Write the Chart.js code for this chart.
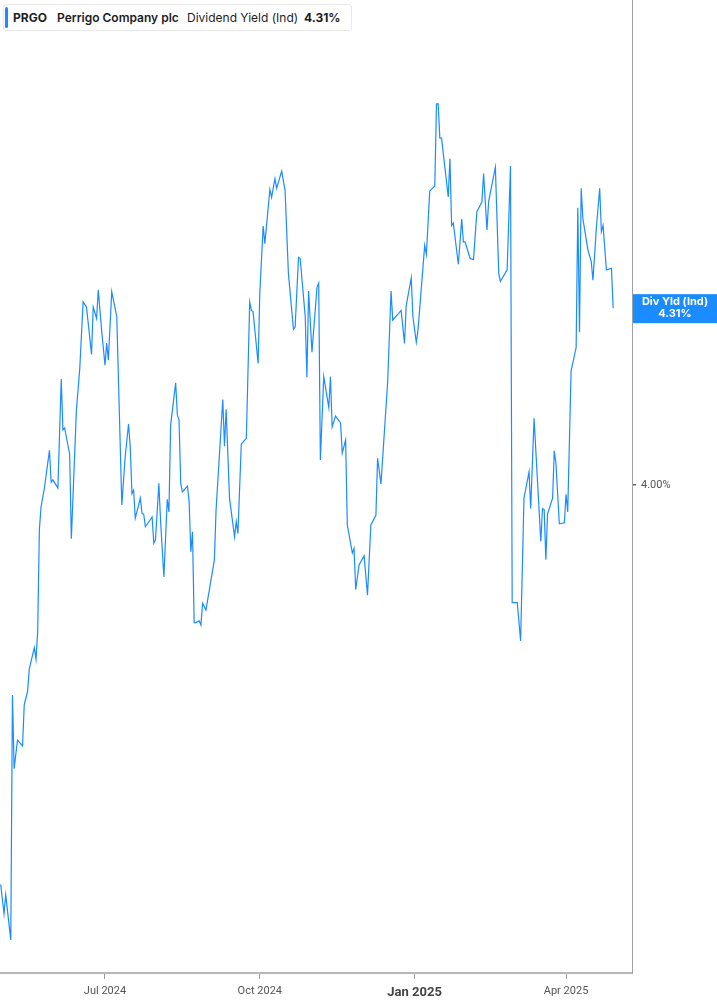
<!DOCTYPE html>
<html>
<head>
<meta charset="utf-8">
<script src="https://cdn.jsdelivr.net/npm/chart.js@4.4.1/dist/chart.umd.min.js"></script>
<style>
  html, body { margin: 0; padding: 0; background: #fff; }
  #wrap { position: relative; width: 717px; height: 1005px; }
  #c { position: absolute; left: 0; top: 0; }
  #hdr { position: absolute; left: 3px; top: 4px; width: 349px; height: 27px; background: #fff;
         border: 1px solid #e8e8e8; border-radius: 3px; box-sizing: border-box;
         font-family: Inter, "Noto Sans", sans-serif; font-size: 12px; color: #1d1d1f; }
  #hdr .bar { position: absolute; left: 1px; top: 2px; width: 3px; height: 21px; background: #1a8cff; border-radius: 2px; }
  #hdr span { position: absolute; top: 5px; white-space: nowrap; line-height: 16px; }
</style>
</head>
<body>
<div id="wrap">
  <canvas id="c" width="717" height="1005"></canvas>
  <div id="hdr">
    <div class="bar"></div>
    <span style="left:9px;font-weight:700">PRGO</span>
    <span style="left:53px;font-weight:600">Perrigo Company plc</span>
    <span style="left:183px;font-weight:400">Dividend Yield (Ind)</span>
    <span style="left:300px;font-weight:700">4.31%</span>
  </div>
</div>
<script>
const dates = [
"2024-04-30","2024-05-02","2024-05-03","2024-05-06","2024-05-07","2024-05-08","2024-05-10","2024-05-13","2024-05-14","2024-05-16",
"2024-05-17","2024-05-20","2024-05-21","2024-05-22","2024-05-23","2024-05-24","2024-05-26","2024-05-29","2024-05-30","2024-05-31",
"2024-06-03","2024-06-05","2024-06-06","2024-06-07","2024-06-10","2024-06-11","2024-06-14","2024-06-16","2024-06-18","2024-06-20",
"2024-06-23","2024-06-24","2024-06-26","2024-06-27","2024-06-29","2024-07-01","2024-07-02","2024-07-03","2024-07-05","2024-07-08",
"2024-07-11","2024-07-13","2024-07-15","2024-07-16","2024-07-17","2024-07-18","2024-07-19","2024-07-22","2024-07-23","2024-07-24",
"2024-07-25","2024-07-29","2024-07-30","2024-07-31","2024-08-02","2024-08-03","2024-08-05","2024-08-07","2024-08-08","2024-08-09",
"2024-08-12","2024-08-13","2024-08-14","2024-08-15","2024-08-16","2024-08-19","2024-08-20","2024-08-21","2024-08-22","2024-08-23",
"2024-08-24","2024-08-26","2024-08-27","2024-08-28","2024-08-30","2024-09-02","2024-09-04","2024-09-05","2024-09-09","2024-09-10",
"2024-09-11","2024-09-13","2024-09-16","2024-09-17","2024-09-18","2024-09-20","2024-09-23","2024-09-25","2024-09-26","2024-09-27",
"2024-09-30","2024-10-01","2024-10-03","2024-10-04","2024-10-07","2024-10-08","2024-10-10","2024-10-11","2024-10-14","2024-10-16",
"2024-10-18","2024-10-21","2024-10-22","2024-10-24","2024-10-25","2024-10-28","2024-10-29","2024-10-30","2024-11-01","2024-11-04",
"2024-11-05","2024-11-06","2024-11-08","2024-11-11","2024-11-12","2024-11-13","2024-11-15","2024-11-18","2024-11-19","2024-11-21",
"2024-11-22","2024-11-25","2024-11-26","2024-11-27","2024-11-29","2024-12-02","2024-12-04","2024-12-06","2024-12-09","2024-12-10",
"2024-12-12","2024-12-16","2024-12-18","2024-12-19","2024-12-24","2024-12-26","2024-12-27","2024-12-30","2024-12-31","2025-01-02",
"2025-01-03","2025-01-07","2025-01-08","2025-01-10","2025-01-13","2025-01-14","2025-01-15","2025-01-16","2025-01-17","2025-01-21",
"2025-01-22","2025-01-23","2025-01-24","2025-01-27","2025-01-29","2025-01-30","2025-01-31","2025-02-03","2025-02-05","2025-02-07",
"2025-02-10","2025-02-11","2025-02-13","2025-02-14","2025-02-18","2025-02-20","2025-02-21","2025-02-25","2025-02-27","2025-02-28",
"2025-03-03","2025-03-04","2025-03-05","2025-03-07","2025-03-10","2025-03-11","2025-03-13","2025-03-15","2025-03-17","2025-03-18",
"2025-03-19","2025-03-20","2025-03-21","2025-03-24","2025-03-25","2025-03-26","2025-03-28","2025-03-31","2025-04-01","2025-04-02",
"2025-04-04","2025-04-07","2025-04-08","2025-04-09","2025-04-10","2025-04-11","2025-04-14","2025-04-16","2025-04-17","2025-04-19",
"2025-04-21","2025-04-22","2025-04-23","2025-04-25","2025-04-28","2025-04-29"
];
const divYield = [
3.300,3.249,3.282,3.203,3.632,3.503,3.553,3.543,3.615,3.639,
3.678,3.715,3.695,3.744,3.922,3.962,3.995,4.061,4.005,4.009,
3.995,4.186,4.097,4.100,4.054,3.906,4.131,4.204,4.321,4.312,
4.229,4.312,4.292,4.342,4.271,4.210,4.249,4.219,4.339,4.295,
3.965,4.050,4.107,4.067,3.985,3.991,3.942,3.977,3.950,3.949,
3.927,3.944,3.898,3.904,4.003,3.939,3.839,3.975,3.953,4.105,
4.179,4.123,4.114,4.003,3.988,3.998,3.971,3.883,3.918,3.759,
3.759,3.762,3.755,3.793,3.781,3.834,3.869,3.956,4.150,4.068,
4.133,3.977,3.909,3.936,3.915,4.072,4.082,4.321,4.306,4.304,
4.213,4.336,4.454,4.423,4.518,4.504,4.537,4.520,4.550,4.517,
4.371,4.273,4.277,4.399,4.397,4.295,4.189,4.340,4.233,4.347,
4.354,4.044,4.190,4.136,4.190,4.102,4.121,4.109,4.056,4.079,
3.930,3.881,3.889,3.817,3.860,3.876,3.807,3.930,3.947,4.047,
4.002,4.181,4.340,4.289,4.306,4.248,4.314,4.363,4.295,4.250,
4.271,4.420,4.404,4.515,4.524,4.668,4.668,4.608,4.608,4.505,
4.572,4.455,4.459,4.387,4.466,4.426,4.426,4.397,4.395,4.479,
4.496,4.546,4.447,4.497,4.557,4.371,4.357,4.377,4.559,3.794,
3.794,3.761,3.727,3.977,4.023,3.959,4.117,4.009,3.901,3.959,
3.957,3.869,3.949,3.977,4.060,4.038,3.932,3.934,3.984,3.953,
4.200,4.241,4.486,4.268,4.520,4.467,4.412,4.391,4.359,4.450,
4.520,4.444,4.455,4.377,4.380,4.310
];
const xTickDates = ["2024-07-01","2024-10-01","2025-01-01","2025-04-01"];
const xTickLabels = ["Jul 2024","Oct 2024","Jan 2025","Apr 2025"];
const yTickValues = [4.00];
const lastLabel = "Div Yld (Ind)";

const LINE = '#1a8cff';
function dayNum(s){ const p = s.split('-').map(Number); return Date.UTC(p[0], p[1]-1, p[2]) / 86400000; }
const pts = dates.map((d, i) => ({ x: dayNum(d), y: divYield[i] }));
const xTicks = xTickDates.map(dayNum);
const boldTick = dayNum("2025-01-01");

const lastBox = {
  id: 'lastBox',
  afterDraw(chart) {
    const ctx = chart.ctx, ys = chart.scales.y, area = chart.chartArea;
    const v = divYield[divYield.length - 1];
    const yp = ys.getPixelForValue(v);
    const x0 = area.right + 1, w = chart.width - x0, h = 29;
    ctx.save();
    ctx.fillStyle = LINE;
    ctx.fillRect(x0, yp - 14, w, h);
    ctx.fillStyle = '#fff';
    ctx.textAlign = 'center';
    ctx.textBaseline = 'middle';
    ctx.font = '700 11px Inter, "Noto Sans", sans-serif';
    ctx.fillText(lastLabel, x0 + w / 2, yp - 6);
    ctx.fillText(v.toFixed(2) + '%', x0 + w / 2, yp + 6);
    ctx.restore();
  }
};

new Chart(document.getElementById('c'), {
  type: 'line',
  data: { datasets: [{ data: pts, borderColor: LINE, borderWidth: 1.2, pointRadius: 0, tension: 0, fill: false }] },
  options: {
    responsive: false,
    animation: false,
    devicePixelRatio: 1,
    layout: { padding: 0 },
    plugins: { legend: { display: false }, tooltip: { enabled: false } },
    scales: {
      x: {
        type: 'linear',
        min: dayNum("2024-04-30") - 0.4,
        max: dayNum("2025-05-10") + 0.2,
        afterBuildTicks(s) { s.ticks = xTicks.map(v => ({ value: v })); },
        afterFit(s) { s.height = 32; s.paddingLeft = 0; s.paddingRight = 0; },
        grid: { display: true, drawOnChartArea: false, drawTicks: true, tickLength: 6, color: '#9a9a9a', lineWidth: 1 },
        border: { display: true, color: '#b8b8b8', width: 2 },
        ticks: {
          autoSkip: false, maxRotation: 0, padding: 6,
          color: (c) => c.tick && c.tick.value === boldTick ? '#444' : '#555',
          font: (c) => c.tick && c.tick.value === boldTick
            ? { family: 'Roboto, "Liberation Sans", sans-serif', size: 13, weight: '700' }
            : { family: 'Roboto, "Liberation Sans", sans-serif', size: 11, weight: '400' },
          callback: (v) => { const i = xTicks.indexOf(v); return i >= 0 ? xTickLabels[i] : ''; }
        }
      },
      y: {
        position: 'right',
        min: 3.145,
        max: 4.85,
        afterBuildTicks(s) { s.ticks = yTickValues.map(v => ({ value: v })); },
        afterFit(s) { s.width = 85; s.paddingTop = 0; s.paddingBottom = 0; },
        grid: { display: true, drawOnChartArea: false, drawTicks: true, tickLength: 4, color: '#666', lineWidth: 1.5 },
        border: { display: true, color: '#a0a0a0', width: 1 },
        ticks: {
          padding: 5, color: '#555',
          font: { family: 'Roboto, "Liberation Sans", sans-serif', size: 11 },
          callback: (v) => v.toFixed(2) + '%'
        }
      }
    }
  },
  plugins: [lastBox]
});
</script>
</body>
</html>
